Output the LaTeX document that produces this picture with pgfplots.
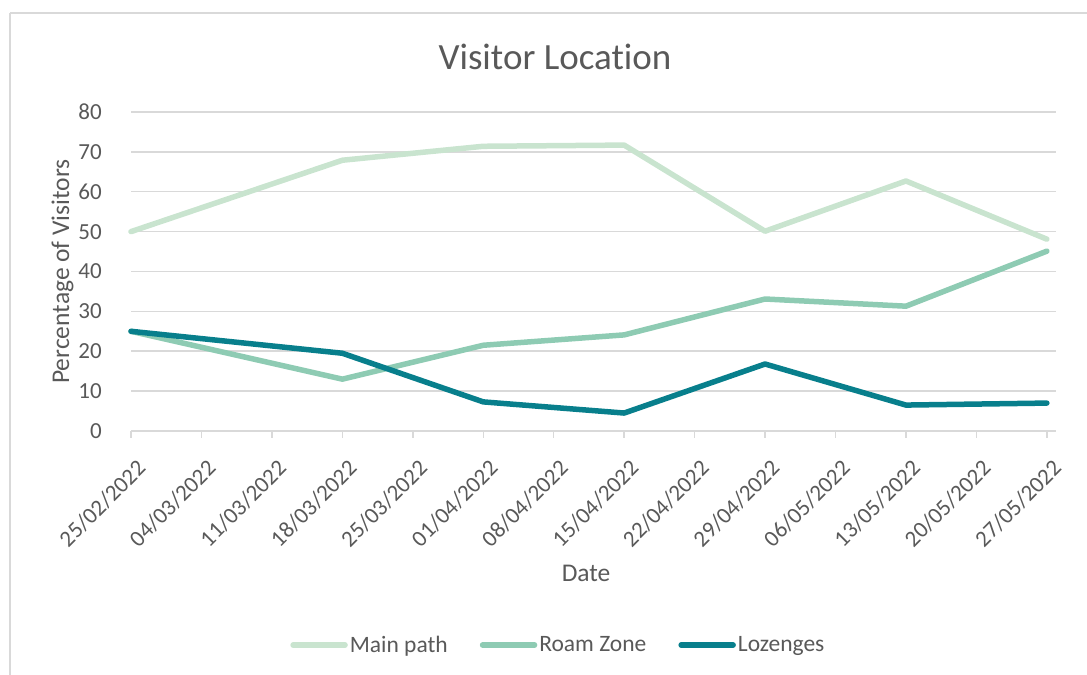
\documentclass[border=0pt]{standalone}
\usepackage{pgfplots}
\pgfplotsset{compat=1.18}
\usepackage{fontspec}
\setmainfont{Carlito}[Ligatures=NoCommon]
\definecolor{mainc}{HTML}{C9E4CF}
\definecolor{roamc}{HTML}{8ECBB3}
\definecolor{lozc}{HTML}{087F8C}
\definecolor{txt}{HTML}{595959}
\definecolor{gridc}{HTML}{D9D9D9}
\begin{document}
\begin{tikzpicture}[x=1bp,y=1bp]
\path[use as bounding box] (0,0) rectangle (1087,675);
\draw[gridc, line width=1.5bp] (10,662) -- (1087,662);
\draw[gridc, line width=1.5bp] (10,662) -- (10,0);
\node[txt, font=\fontsize{37bp}{40bp}\selectfont] at (555,618) {Visitor Location};
\begin{axis}[
  at={(131bp,244bp)}, anchor=south west,
  scale only axis, width=925bp, height=319bp,
  xmin=0, xmax=13.13, ymin=0, ymax=80,
  axis x line*=bottom,
  axis y line*=left,
  y axis line style={draw=none},
  x axis line style={gridc, line width=1.5bp},
  ymajorgrids, grid style={gridc, line width=1.5bp},
  ytick={0,10,...,80},
  xtick={0,...,13},
  xticklabels={25/02/2022,04/03/2022,11/03/2022,18/03/2022,25/03/2022,01/04/2022,08/04/2022,15/04/2022,22/04/2022,29/04/2022,06/05/2022,13/05/2022,20/05/2022,27/05/2022},
  xtick style={gridc, line width=1.5bp},
  major tick length=7bp,
  tick align=outside,
  ytick style={draw=none},
  xticklabel style={rotate=45, anchor=east, inner sep=0pt, xshift=-11bp, yshift=-26bp, text=txt, font=\fontsize{23bp}{26bp}\selectfont},
  yticklabel style={text=txt, font=\fontsize{23bp}{26bp}\selectfont, inner sep=0pt, xshift=-22bp},
  /pgf/number format/assume math mode=true,
  xlabel={Date}, ylabel={Percentage of Visitors},
  xlabel style={text=txt, font=\fontsize{25.5bp}{28bp}\selectfont, at={(0.492,-0.445)}, anchor=center},
  ylabel style={text=txt, font=\fontsize{25.5bp}{28bp}\selectfont, at={(-0.074,0.5)}, anchor=center},
  legend style={at={(0.462,-0.671)}, anchor=center, draw=none, fill=none, legend columns=3,
    font=\fontsize{23.5bp}{26bp}\selectfont, text=txt,
    /tikz/every even column/.append style={column sep=30bp}},
  legend cell align=left,
  legend image code/.code={\draw[#1, line cap=round] (0bp,0bp) -- (52bp,0bp);},
  clip=false,
]
\addplot[mainc, line width=5.5bp, line join=round, line cap=round] coordinates {(0,50.0) (3,67.9) (5,71.4) (7,71.7) (9,50.1) (11,62.7) (13,48.1)};
\addlegendentry{Main path}
\addplot[roamc, line width=5.5bp, line join=round, line cap=round] coordinates {(0,25.0) (3,13.0) (5,21.5) (7,24.1) (9,33.1) (11,31.3) (13,45.1)};
\addlegendentry{Roam Zone}
\addplot[lozc, line width=5.5bp, line join=round, line cap=round] coordinates {(0,25.0) (3,19.5) (5,7.3) (7,4.5) (9,16.8) (11,6.5) (13,7.0)};
\addlegendentry{Lozenges}
\end{axis}
\end{tikzpicture}
\end{document}
